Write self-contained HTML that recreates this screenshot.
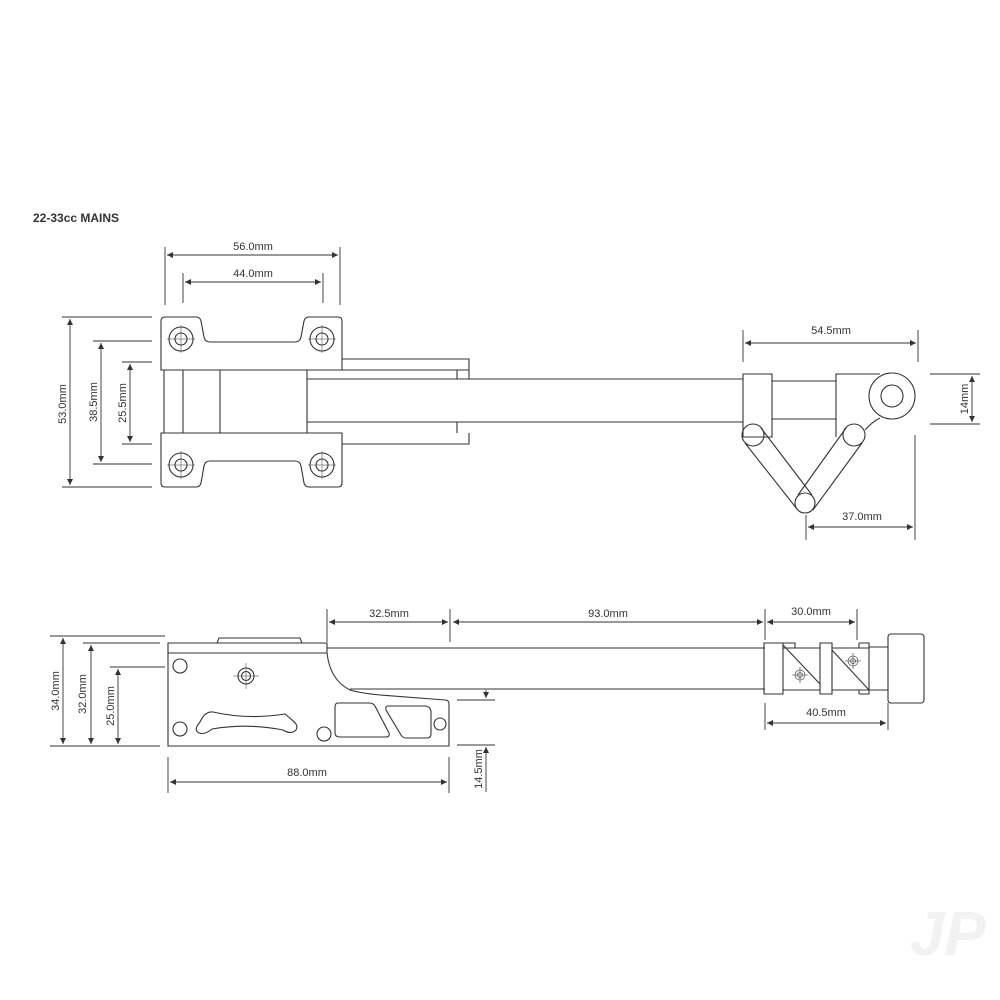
<!DOCTYPE html>
<html><head><meta charset="utf-8"><style>
html,body{margin:0;padding:0;background:#fff;}
svg{display:block;}
text{font-family:"Liberation Sans",sans-serif;font-size:11px;fill:#333;}
</style></head><body>
<svg width="1000" height="1000" viewBox="0 0 1000 1000" xmlns="http://www.w3.org/2000/svg">
<defs>
<marker id="a" viewBox="0 0 10 10" refX="10" refY="5" markerWidth="8" markerHeight="6" orient="auto-start-reverse" markerUnits="userSpaceOnUse"><path d="M0,0 L10,5 L0,10 z" fill="#333"/></marker>
</defs>
<rect width="1000" height="1000" fill="#fff"/>
<text x="33" y="222" style="font-weight:bold;font-size:12px">22-33cc MAINS</text>

<g fill="none" stroke="#333" stroke-width="1.1">
<!-- TOP VIEW -->
<path d="M165,317 H196 Q200,317 201,321 L204,337 Q205,342 210,342 H295 Q300,342 301,337 L304,321 Q305,317 309,317 H338 Q342,317 342,321 V370 H161 V321 Q161,317 165,317 Z"/>
<path d="M161,433 H342 V483 Q342,487 338,487 H309 Q305,487 304,483 L301,466 Q300,461 295,461 H210 Q205,461 204,466 L201,483 Q200,487 196,487 H165 Q161,487 161,483 Z"/>
<g>
<circle cx="181" cy="339" r="12"/><circle cx="181" cy="339" r="6"/>
<circle cx="322" cy="339" r="12"/><circle cx="322" cy="339" r="6"/>
<circle cx="181" cy="465" r="12"/><circle cx="181" cy="465" r="6"/>
<circle cx="322" cy="465" r="12"/><circle cx="322" cy="465" r="6"/>
</g>
<g stroke-width="0.5">
<path d="M167,339 H195 M181,325 V353 M308,339 H336 M322,325 V353 M167,465 H195 M181,451 V479 M308,465 H336 M322,451 V479"/>
</g>
<path d="M164,370 V433 M183,370 V433 M220,370 V433 M307,370 V433"/>
<path d="M342,359 H469 V370 H342 M457,370 V379 H469 V370"/>
<path d="M342,444 H469 V433 M457,433 V422 H469"/>
<path d="M307,379 H743 M307,422 H743"/>
<!-- right side top -->
<path d="M743,374 H772 V437 H743 Z"/>
<path d="M772,381 H836 M772,419 H836"/>
<path d="M836,437 V374 H880"/>
<circle cx="892" cy="396" r="23"/>
<circle cx="892" cy="396" r="11"/>
<path d="M865,430 Q872,422 880,418"/>
<circle cx="753" cy="435" r="11"/>
<circle cx="854" cy="435" r="11"/>
<circle cx="805" cy="503" r="10"/>
<path d="M745,443 L797,509 M761,428 L812,495"/>
<path d="M846,428 L798,495 M862,443 L813,510"/>

<!-- SIDE VIEW -->
<path d="M217,643 L219,638 H300 L302,643"/>
<path d="M168,643 H327 V653 H168 Z"/>
<path d="M168,653 V746 H449 V704 Q449,700 445,700 L380,695 Q360,693 350,690 Q330,680 327,653"/>
<path d="M327,648 H765 M350,689 H765"/>
<circle cx="180" cy="666" r="7"/>
<circle cx="180" cy="729" r="7"/>
<circle cx="324" cy="734" r="7"/>
<circle cx="440" cy="724" r="6"/>
<circle cx="246" cy="676" r="8"/><circle cx="246" cy="676" r="4.5"/>
<path d="M233,676 H259 M246,663 V689" stroke-width="0.5"/>
<path d="M200,722 Q193,730 199,733 Q205,735 212,729 Q248,723 283,730 Q291,735 296,730 Q299,725 292,720 L285,714 Q248,720 213,712 Q205,711 200,722 Z"/>
<path d="M338,703 H370 Q373,703 375,706 L389,733 Q390,737 386,737 H340 Q335,737 335,733 V707 Q335,703 338,703 Z"/>
<path d="M388,706 H425 Q430,706 431,711 V734 Q431,738 427,738 H406 Q403,738 401,735 L386,710 Q385,706 388,706 Z"/>
<!-- right side bottom -->
<path d="M764,643 H783 V694 H764 Z"/>
<path d="M783,648 H820 M783,690 H820 M783,643 H795 V648 M783,645 L820,684"/>
<path d="M820,643 H832 V694 H820 Z"/>
<path d="M832,648 H869 M832,690 H869 M832,650 L869,690 M859,694 V690 M859,643 V648"/>
<path d="M859,643 H869 V694 H859 M869,647 H888 M869,690 H888"/>
<rect x="888" y="634" width="36" height="69" rx="3"/>
<g stroke-width="0.6">
<circle cx="800" cy="675" r="5"/><circle cx="800" cy="675" r="2.5"/><path d="M792,675 H808 M800,667 V683"/>
<circle cx="853" cy="661" r="5"/><circle cx="853" cy="661" r="2.5"/><path d="M845,661 H861 M853,653 V669"/>
</g>
</g>

<!-- DIMENSIONS -->
<g fill="none" stroke="#333" stroke-width="0.9">
<path d="M165,247 V305 M340,247 V305 M183,273 V303 M323,273 V303"/>
<path d="M167,255 H338" marker-start="url(#a)" marker-end="url(#a)"/>
<path d="M185,282 H321" marker-start="url(#a)" marker-end="url(#a)"/>
<path d="M62,317 H152 M62,487 H152 M93,341 H152 M93,464 H152 M122,362 H152 M122,444 H152"/>
<path d="M70,319 V485" marker-start="url(#a)" marker-end="url(#a)"/>
<path d="M101,343 V462" marker-start="url(#a)" marker-end="url(#a)"/>
<path d="M130,364 V442" marker-start="url(#a)" marker-end="url(#a)"/>
<path d="M743,330 V362 M918,330 V362"/>
<path d="M745,343 H916" marker-start="url(#a)" marker-end="url(#a)"/>
<path d="M930,374 H980 M930,424 H980"/>
<path d="M972,376 V422" marker-start="url(#a)" marker-end="url(#a)"/>
<path d="M915,435 V540 M806,515 V540"/>
<path d="M808,527 H913" marker-start="url(#a)" marker-end="url(#a)"/>
<!-- bottom -->
<path d="M50,636 H165 M50,746 H160 M83,643 H160 M110,667 H165"/>
<path d="M63,638 V744" marker-start="url(#a)" marker-end="url(#a)"/>
<path d="M91,645 V744" marker-start="url(#a)" marker-end="url(#a)"/>
<path d="M118,669 V744" marker-start="url(#a)" marker-end="url(#a)"/>
<path d="M168,757 V793 M449,757 V793"/>
<path d="M170,782 H447" marker-start="url(#a)" marker-end="url(#a)"/>
<path d="M327,609 V642 M450,609 V642 M765,609 V640 M857,609 V640"/>
<path d="M329,622 H448" marker-start="url(#a)" marker-end="url(#a)"/>
<path d="M453,622 H763" marker-start="url(#a)" marker-end="url(#a)"/>
<path d="M767,622 H855" marker-start="url(#a)" marker-end="url(#a)"/>
<path d="M457,700 H495 M457,745 H495"/>
<path d="M486,690 V698" marker-end="url(#a)"/>
<path d="M486,792 V747" marker-end="url(#a)"/>
<path d="M765,703 V730 M888,703 V730"/>
<path d="M767,723 H886" marker-start="url(#a)" marker-end="url(#a)"/>
</g>

<g text-anchor="middle">
<text x="253" y="250">56.0mm</text>
<text x="253" y="277">44.0mm</text>
<text transform="translate(66,404) rotate(-90)">53.0mm</text>
<text transform="translate(97,402) rotate(-90)">38.5mm</text>
<text transform="translate(126,403) rotate(-90)">25.5mm</text>
<text x="831" y="334">54.5mm</text>
<text transform="translate(968,399) rotate(-90)">14mm</text>
<text x="862" y="520">37.0mm</text>
<text transform="translate(59,691) rotate(-90)">34.0mm</text>
<text transform="translate(86,694) rotate(-90)">32.0mm</text>
<text transform="translate(114,706) rotate(-90)">25.0mm</text>
<text x="307" y="776">88.0mm</text>
<text x="389" y="617">32.5mm</text>
<text x="608" y="617">93.0mm</text>
<text x="811" y="615">30.0mm</text>
<text x="826" y="716">40.5mm</text>
<text transform="translate(482,769) rotate(-90)">14.5mm</text>
</g>
<text x="910" y="955" style="font-size:62px;font-weight:bold;font-style:italic;fill:#f2f2f2">JP</text>
</svg>
</body></html>
